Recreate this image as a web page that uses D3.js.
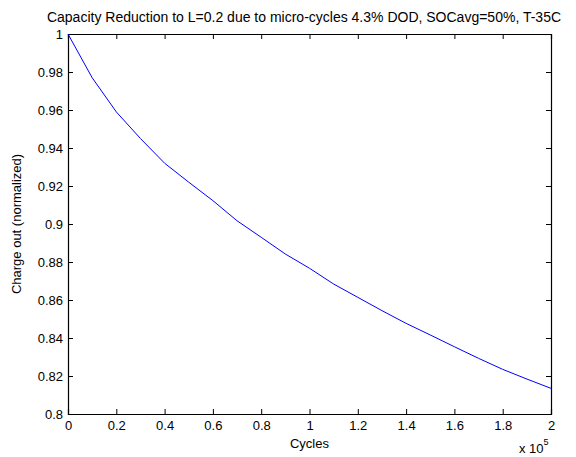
<!DOCTYPE html>
<html>
<head>
<meta charset="utf-8">
<script src="https://cdn.jsdelivr.net/npm/d3@7"></script>
<style>
  body { margin: 0; background: #fff; }
  svg text { font-family: "Liberation Sans", Arial, sans-serif; fill: #000; }
</style>
</head>
<body>
<svg id="chart"></svg>
<script>
// cycles in units of 1e5
const cycles = [0, 0.1, 0.2, 0.3, 0.4, 0.5, 0.6, 0.7, 0.8, 0.9, 1.0,
                1.1, 1.2, 1.3, 1.4, 1.5, 1.6, 1.7, 1.8, 1.9, 2.0];
const chargeOut = [1.0, 0.977, 0.959, 0.945, 0.932, 0.922, 0.9123, 0.9017, 0.893, 0.8842, 0.8767,
                   0.8684, 0.8614, 0.8544, 0.8477, 0.8416, 0.8354, 0.8293, 0.8235, 0.8184, 0.8135];
const xTicks = [0, 0.2, 0.4, 0.6, 0.8, 1, 1.2, 1.4, 1.6, 1.8, 2];
const yTicks = [0.8, 0.82, 0.84, 0.86, 0.88, 0.9, 0.92, 0.94, 0.96, 0.98, 1];

const title = 'Capacity Reduction to L=0.2 due to micro-cycles 4.3% DOD, SOCavg=50%, T-35C';
const xlabel = 'Cycles';
const ylabel = 'Charge out (normalized)';

const width = 576, height = 457;
const margin = {top: 34, right: 25, bottom: 43, left: 68};
const w = width - margin.left - margin.right;
const h = height - margin.top - margin.bottom;

const svg = d3.select('#chart').attr('width', width).attr('height', height);
const g = svg.append('g').attr('transform', `translate(${margin.left},${margin.top})`);

const x = d3.scaleLinear().domain([0, 2]).range([0, w]);
const y = d3.scaleLinear().domain([0.8, 1]).range([h, 0]);

const fmt = d => String(+d.toFixed(2));

// axes with inward ticks
const xAxis = g.append('g').attr('transform', `translate(0,${h})`)
  .call(d3.axisBottom(x).tickValues(xTicks).tickSize(-5).tickPadding(7).tickFormat(fmt));
const xTop = g.append('g')
  .call(d3.axisTop(x).tickValues(xTicks).tickSize(-5).tickFormat(''));
const yAxis = g.append('g')
  .call(d3.axisLeft(y).tickValues(yTicks).tickSize(-5).tickPadding(5).tickFormat(fmt));
const yRight = g.append('g').attr('transform', `translate(${w},0)`)
  .call(d3.axisRight(y).tickValues(yTicks).tickSize(-5).tickFormat(''));

[xAxis, xTop, yAxis, yRight].forEach(a => {
  a.select('.domain').attr('stroke', '#000').attr('stroke-width', 1.2);
  a.selectAll('.tick line').attr('stroke', '#000');
  a.selectAll('text').style('font-size', '13px').attr('fill', '#000');
});

// line
const line = d3.line().x((d, i) => x(cycles[i])).y(d => y(d));
g.append('path')
  .datum(chargeOut)
  .attr('fill', 'none')
  .attr('stroke', '#0000ff')
  .attr('stroke-width', 1)
  .attr('d', line);

// title
svg.append('text')
  .attr('x', 304)
  .attr('y', 22)
  .attr('text-anchor', 'middle')
  .style('font-size', '14px')
  .text(title);

// x label
svg.append('text')
  .attr('x', margin.left + w / 2)
  .attr('y', 448)
  .attr('text-anchor', 'middle')
  .style('font-size', '13px')
  .text(xlabel);

// exponent
const ex = svg.append('text')
  .attr('x', 519)
  .attr('y', 453)
  .style('font-size', '13px');
ex.append('tspan').text('x 10');
ex.append('tspan').attr('dy', -8).style('font-size', '9px').text('5');

// y label
svg.append('text')
  .attr('transform', `translate(21,${margin.top + h / 2}) rotate(-90)`)
  .attr('text-anchor', 'middle')
  .style('font-size', '13px')
  .text(ylabel);
</script>
</body>
</html>
